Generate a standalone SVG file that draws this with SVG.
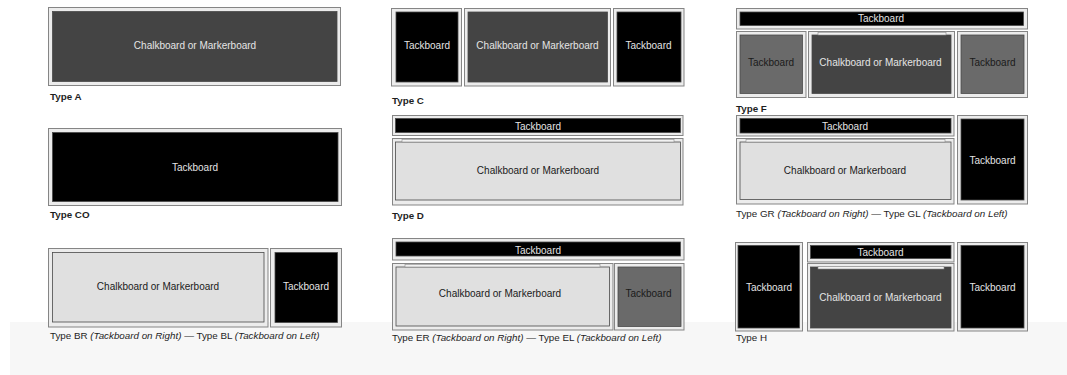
<svg xmlns="http://www.w3.org/2000/svg" width="1067" height="375" viewBox="0 0 1067 375">
<style>
.fr{fill:#ececec;stroke:#858585;stroke-width:1}
.in{stroke:#4a4a4a;stroke-width:0.8}
.dk{fill:#444444}
.bk{fill:#000000}
.lt{fill:#e0e0e0}
.gr{fill:#6a6a6a}
.rail{fill:#f2f2f2;stroke:#8a8a8a;stroke-width:0.6}
.t{font-family:"Liberation Sans",Arial,Helvetica,sans-serif;font-size:10px;text-anchor:middle}
.w{fill:#e4e4e4}
.k{fill:#1a1a1a}
.lb{font-family:"Liberation Sans",Arial,Helvetica,sans-serif;font-size:9.8px;fill:#1e1e1e}
.b{font-weight:bold}
.i{font-style:italic}
</style>
<rect x="0" y="0" width="1067" height="375" fill="#ffffff"/>
<rect x="10" y="322" width="1057" height="53" fill="#f7f7f7"/>

<!-- Type A -->
<g id="typeA-chalk">
<rect class="fr" x="48.5" y="7.5" width="292" height="78"/>
<rect class="in dk" x="52.5" y="11.5" width="284.5" height="70"/>
<text class="t w" x="195" y="48.5">Chalkboard or Markerboard</text>
</g>
<text id="lbl-A" class="lb b" x="50" y="100">Type A</text>

<!-- Type C -->
<g id="typeC-tack-left">
<rect class="fr" x="391.5" y="8.5" width="70" height="77.5"/>
<rect class="in bk" x="396" y="12" width="62" height="70"/>
<text class="t w" x="427" y="48.5">Tackboard</text>
</g>
<g id="typeC-chalk">
<rect class="fr" x="464.5" y="8.5" width="146" height="77.5"/>
<rect class="in dk" x="468" y="12" width="139.5" height="70"/>
<text class="t w" x="537.5" y="48.5">Chalkboard or Markerboard</text>
</g>
<g id="typeC-tack-right">
<rect class="fr" x="613.5" y="8.5" width="70.5" height="77.5"/>
<rect class="in bk" x="617" y="12" width="64" height="70"/>
<text class="t w" x="648.5" y="48.5">Tackboard</text>
</g>
<text id="lbl-C" class="lb b" x="392" y="104">Type C</text>

<!-- Type F -->
<g id="typeF-strip">
<rect class="fr" x="736.5" y="8.5" width="291" height="20.5"/>
<rect class="in bk" x="740" y="12" width="283.5" height="13.5"/>
<text class="t w" x="881" y="22">Tackboard</text>
</g>
<g id="typeF-tack-left">
<rect class="fr" x="736.5" y="31.5" width="69.5" height="66"/>
<rect class="in gr" x="740" y="35" width="62.5" height="58.5"/>
<text class="t k" x="771" y="65.5">Tackboard</text>
</g>
<g id="typeF-chalk">
<rect class="fr" x="808.5" y="31.5" width="146" height="66"/>
<rect class="in dk" x="812" y="35" width="139" height="58.5"/>
<rect class="rail" x="818" y="32.5" width="128" height="2.5"/>
<text class="t w" x="880.5" y="65.5">Chalkboard or Markerboard</text>
</g>
<g id="typeF-tack-right">
<rect class="fr" x="957.5" y="31.5" width="70" height="66"/>
<rect class="in gr" x="961" y="35" width="63" height="58.5"/>
<text class="t k" x="992.5" y="65.5">Tackboard</text>
</g>
<text id="lbl-F" class="lb b" x="736" y="112">Type F</text>

<!-- Type CO -->
<g id="typeCO-tack">
<rect class="fr" x="48.5" y="128.5" width="293" height="77"/>
<rect class="in bk" x="52.5" y="132.5" width="285.5" height="69"/>
<text class="t w" x="195" y="171">Tackboard</text>
</g>
<text id="lbl-CO" class="lb b" x="50" y="218">Type CO</text>

<!-- Type D -->
<g id="typeD-strip">
<rect class="fr" x="392.5" y="115.5" width="290.5" height="20"/>
<rect class="in bk" x="395.5" y="118.5" width="285" height="14"/>
<text class="t w" x="538" y="129.5">Tackboard</text>
</g>
<g id="typeD-chalk">
<rect class="fr" x="392.5" y="138.5" width="290.5" height="66.5"/>
<rect class="in lt" x="395.5" y="142" width="285" height="58"/>
<rect class="rail" x="402" y="139.5" width="272" height="2.5"/>
<text class="t k" x="538" y="173.5">Chalkboard or Markerboard</text>
</g>
<text id="lbl-D" class="lb b" x="392" y="219">Type D</text>

<!-- Type GR -->
<g id="typeGR-strip">
<rect class="fr" x="736.5" y="115.5" width="217.5" height="20.5"/>
<rect class="in bk" x="740" y="118.5" width="211" height="14.5"/>
<text class="t w" x="845" y="129.5">Tackboard</text>
</g>
<g id="typeGR-chalk">
<rect class="fr" x="736.5" y="138.5" width="217.5" height="65.5"/>
<rect class="in lt" x="740" y="142" width="211" height="57.5"/>
<rect class="rail" x="746" y="139.5" width="199" height="2.5"/>
<text class="t k" x="845" y="173.5">Chalkboard or Markerboard</text>
</g>
<g id="typeGR-tack">
<rect class="fr" x="957.5" y="115.5" width="70" height="88.5"/>
<rect class="in bk" x="961" y="119" width="63" height="81"/>
<text class="t w" x="992.5" y="163.5">Tackboard</text>
</g>
<text id="lbl-GR" class="lb" x="736" y="217"><tspan>Type GR </tspan><tspan class="i">(Tackboard on Right)</tspan><tspan> — Type GL </tspan><tspan class="i">(Tackboard on Left)</tspan></text>

<!-- Type BR -->
<g id="typeBR-chalk">
<rect class="fr" x="48.5" y="248.5" width="219.5" height="78.5"/>
<rect class="in lt" x="52.5" y="252.5" width="211.5" height="69.5"/>
<text class="t k" x="158" y="289.5">Chalkboard or Markerboard</text>
</g>
<g id="typeBR-tack">
<rect class="fr" x="270.5" y="248.5" width="71" height="78.5"/>
<rect class="in bk" x="275" y="252.5" width="62.5" height="70"/>
<text class="t w" x="306" y="289.5">Tackboard</text>
</g>
<text id="lbl-BR" class="lb" x="50" y="339"><tspan>Type BR </tspan><tspan class="i">(Tackboard on Right)</tspan><tspan> — Type BL </tspan><tspan class="i">(Tackboard on Left)</tspan></text>

<!-- Type ER -->
<g id="typeER-strip">
<rect class="fr" x="392.5" y="238.5" width="291.5" height="21.5"/>
<rect class="in bk" x="396" y="242" width="284.5" height="14"/>
<text class="t w" x="538" y="253.5">Tackboard</text>
</g>
<g id="typeER-chalk">
<rect class="fr" x="392.5" y="263.5" width="220.5" height="66.5"/>
<rect class="in lt" x="396" y="267" width="213.5" height="59"/>
<rect class="rail" x="405" y="264.5" width="195" height="2.5"/>
<text class="t k" x="500" y="296.5">Chalkboard or Markerboard</text>
</g>
<g id="typeER-tack">
<rect class="fr" x="614.5" y="263.5" width="69.5" height="66.5"/>
<rect class="in gr" x="618" y="267" width="63" height="59.5"/>
<text class="t k" x="648.5" y="296.5">Tackboard</text>
</g>
<text id="lbl-ER" class="lb" x="392" y="341"><tspan>Type ER </tspan><tspan class="i">(Tackboard on Right)</tspan><tspan> — Type EL </tspan><tspan class="i">(Tackboard on Left)</tspan></text>

<!-- Type H -->
<g id="typeH-tack-left">
<rect class="fr" x="735.5" y="242.5" width="67" height="88.5"/>
<rect class="in bk" x="738" y="245.5" width="61.5" height="82.5"/>
<text class="t w" x="769" y="290.5">Tackboard</text>
</g>
<g id="typeH-strip">
<rect class="fr" x="807.5" y="242.5" width="146.5" height="19.5"/>
<rect class="in bk" x="810.5" y="245.5" width="140.5" height="13"/>
<text class="t w" x="880.5" y="256">Tackboard</text>
</g>
<g id="typeH-chalk">
<rect class="fr" x="807.5" y="263.5" width="146.5" height="67.5"/>
<rect class="in dk" x="810.5" y="267" width="140.5" height="61"/>
<rect class="rail" x="818" y="266.5" width="126" height="2.5"/>
<text class="t w" x="880.5" y="300.5">Chalkboard or Markerboard</text>
</g>
<g id="typeH-tack-right">
<rect class="fr" x="957.5" y="242.5" width="70" height="88.5"/>
<rect class="in bk" x="961" y="245.5" width="63" height="82.5"/>
<text class="t w" x="992.5" y="290.5">Tackboard</text>
</g>
<text id="lbl-H" class="lb" x="736" y="341">Type H</text>
</svg>
